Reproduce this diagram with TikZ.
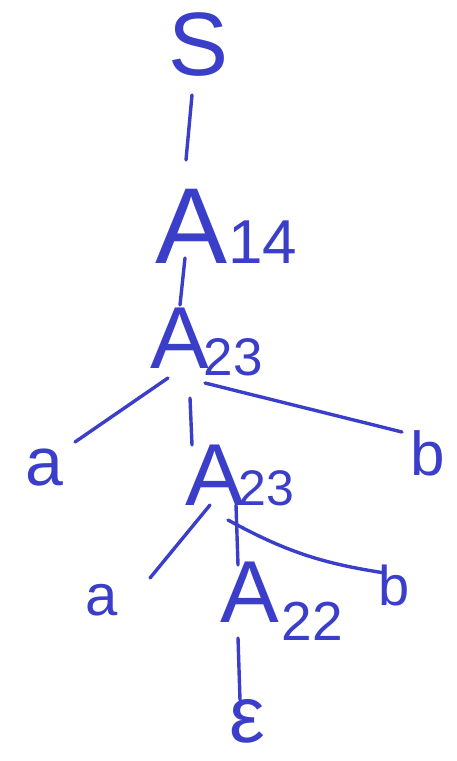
\documentclass[tikz,border=0pt]{standalone}
\usepackage{fontspec}
\setmainfont{Liberation Sans}
\usetikzlibrary{calc}
\definecolor{ink}{RGB}{58,62,200}
\newcommand{\fs}[1]{\fontsize{#1}{#1}\selectfont}
\begin{document}
\begin{tikzpicture}[x=1pt,y=-1pt,
  lbl/.style={inner sep=0pt,anchor=base west,text=ink},
  edge/.style={draw=ink,line width=3.4pt,line cap=round}]
\useasboundingbox (0,0) rectangle (457,761);
\node[lbl] (S) at (168,75) {\fs{90}S};
\node[lbl] (A14) at (155,263) {\fs{108}A\kern1pt\fs{62}14};
\node[lbl] (A23a) at (150,368) {\fs{88}A\kern-5pt\raisebox{-7pt}{\fs{53}23}};
\node[lbl] (a1) at (25,485) {\fs{68}a};
\node[lbl] (b1) at (410,475) {\fs{62}b};
\node[lbl] (A23b) at (185,505) {\fs{88}A\kern-5pt\fs{50}23};
\node[lbl] (a2) at (85,615) {\fs{58}a};
\node[lbl] (b2) at (378,605) {\fs{56}b};
\node[lbl] (A22) at (220,622) {\fs{88}A\kern3pt\raisebox{-18pt}{\fs{55}22}};
\node[lbl] (eps) at (229,742) {\fs{80}ε};
\draw[edge] ($(S.base west)+(24,20)$) -- ($(A14.base west)+(31,-103)$);
\draw[edge] ($(A14.base west)+(30,-5)$) -- ($(A23a.base west)+(30,-63)$);
\draw[edge] ($(A23a.base west)+(18,10)$) -- ($(a1.base west)+(50,-43)$);
\draw[edge] ($(A23a.base west)+(55,15)$) -- ($(b1.base west)+(-8,-43)$);
\draw[edge] ($(A23a.base west)+(40,30)$) -- ($(A23b.base west)+(7,-60)$);
\draw[edge] ($(A23b.base west)+(25,0)$) -- ($(a2.base west)+(65,-37)$);
\draw[edge] ($(A23b.base west)+(43,15)$) to[bend right=10] ($(b2.base west)+(7,-32)$);
\draw[edge] ($(A23b.base west)+(51,0)$) -- ($(A22.base west)+(18,-57)$);
\draw[edge] ($(A22.base west)+(18,16)$) -- ($(eps.base west)+(11,-42)$);
\end{tikzpicture}
\end{document}
